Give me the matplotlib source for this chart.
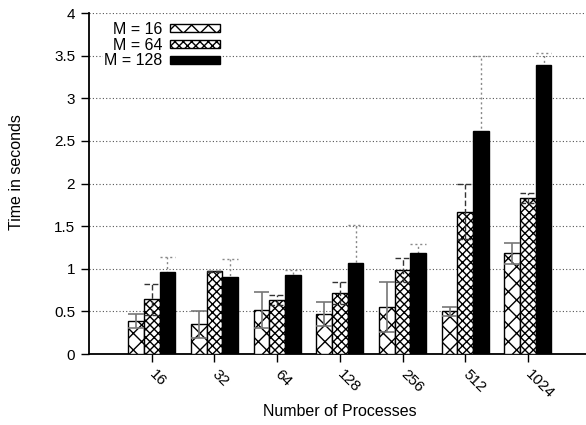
import matplotlib
matplotlib.use("Agg")
import matplotlib.pyplot as plt
import numpy as np

plt.rcParams['font.family'] = ['Liberation Sans', 'DejaVu Sans']
plt.rcParams['hatch.linewidth'] = 1.0

categories = ["16", "32", "64", "128", "256", "512", "1024"]
series_labels = ["M = 16", "M = 64", "M = 128"]
m16 = [0.39, 0.35, 0.52, 0.47, 0.55, 0.50, 1.18]
m16_err = [0.08, 0.16, 0.21, 0.14, 0.29, 0.055, 0.12]
m64 = [0.64, 0.97, 0.63, 0.72, 0.985, 1.67, 1.83]
m64_err = [0.18, 0.01, 0.06, 0.13, 0.145, 0.32, 0.06]
m128 = [0.96, 0.90, 0.93, 1.07, 1.18, 2.62, 3.39]
m128_err = [0.18, 0.21, 0.055, 0.45, 0.11, 0.88, 0.14]
yticks = [0, 0.5, 1, 1.5, 2, 2.5, 3, 3.5, 4]

fig = plt.figure(figsize=(5.86, 4.25), dpi=100)
ax = fig.add_axes([0.152, 0.167, 0.856, 0.802])

x = np.arange(len(categories))
w = 0.25
values = [m16, m64, m128]
errs = [m16_err, m64_err, m128_err]
hatches = ['xx', 'xxxx', None]
faces = ['white', 'white', 'black']
err_styles = [dict(color='#777777', ls='-', lw=1.2, z=4),
              dict(color='#333333', ls=(0, (4, 2)), lw=1.0, z=4),
              dict(color='#888888', ls=(0, (1.5, 2)), lw=1.0, z=1)]

for i in range(3):
    xi = x + (i - 1) * w
    v = np.array(values[i]); e = np.array(errs[i])
    ax.bar(xi, v, width=w, facecolor=faces[i], edgecolor='black',
           hatch=hatches[i], linewidth=1.0, label=series_labels[i], zorder=3)
    st = err_styles[i]
    ax.vlines(xi, v - e, v + e, colors=st['color'], linestyles=st['ls'],
              linewidth=st['lw'], zorder=st['z'])
    ax.hlines(v + e, xi - w / 2, xi + w / 2, colors=st['color'],
              linestyles=st['ls'], linewidth=st['lw'], zorder=st['z'])
    ax.hlines(v - e, xi - w / 2, xi + w / 2, colors=st['color'],
              linestyles=st['ls'], linewidth=st['lw'], zorder=st['z'])

ax.set_xlim(-1, 7)
ax.set_ylim(0, 4)
ax.set_yticks(yticks)
ax.set_yticklabels([f"{t:g}" for t in yticks], fontsize=11)
ax.set_xticks(x)
ax.set_xticklabels(categories, rotation=-45, ha='left', va='center', fontsize=11,
                   rotation_mode='anchor')
ax.tick_params(direction='out', length=6, width=1, colors='black', pad=4)
ax.tick_params(axis='x', pad=7)
ax.yaxis.grid(True, linestyle=(0, (1, 2)), color='#555555', linewidth=0.8)
ax.set_axisbelow(True)
for s in ['top', 'right']:
    ax.spines[s].set_visible(False)
for s in ['left', 'bottom']:
    ax.spines[s].set_linewidth(1.3)

ax.set_ylabel("Time in seconds", fontsize=11.5)
ax.yaxis.set_label_coords(-0.13, 0.534)
ax.set_xlabel("Number of Processes", fontsize=11.5, va='center')
ax.xaxis.set_label_coords(0.5, -0.17)

leg = ax.legend(loc='upper left', bbox_to_anchor=(0.011, 1.003), markerfirst=False,
                fontsize=11.5, frameon=True, fancybox=False, edgecolor='none',
                facecolor='white', framealpha=1, handlelength=3.1, handleheight=0.4,
                handletextpad=0.5, labelspacing=0.05, borderpad=0.1)
for t in leg.get_texts():
    t.set_ha('right')

fig.savefig("out.png", dpi=100)
